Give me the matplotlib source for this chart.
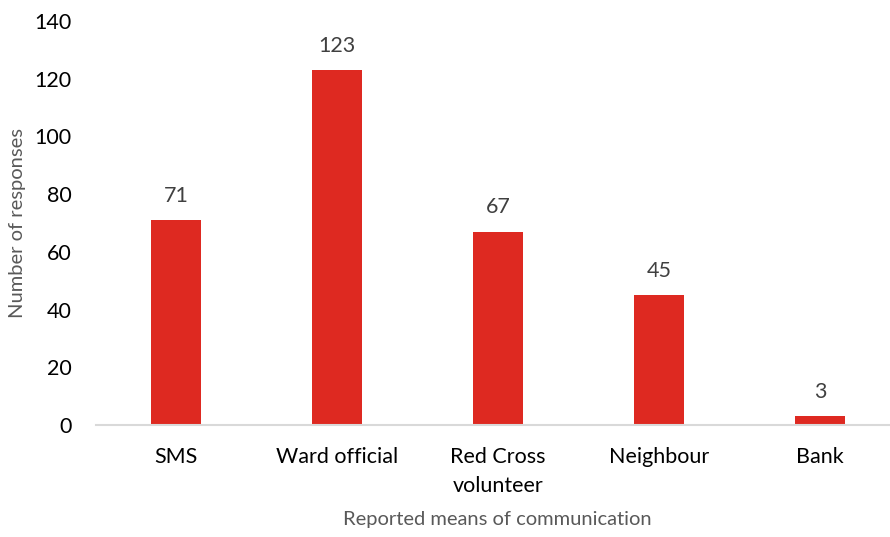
import matplotlib.pyplot as plt

plt.rcParams['font.family'] = ['Lato', 'DejaVu Sans']

categories = ['SMS', 'Ward official', 'Red Cross\nvolunteer', 'Neighbour', 'Bank']
responses = [71, 123, 67, 45, 3]

fig = plt.figure(figsize=(8.9, 5.37), dpi=100)
ax = fig.add_axes([95.5 / 890, 112 / 537, (890 - 95.5) / 890, (425 - 21) / 537])

x = range(len(categories))
bars = ax.bar(x, responses, width=0.31, color='#DE2921', zorder=2)

for b, v in zip(bars, responses):
    ax.annotate(str(v), (b.get_x() + b.get_width() / 2, v), xytext=(0, 17.5),
                textcoords='offset points', ha='center', va='center',
                fontsize=15.5, color='#404040')

ax.set_xlim(-0.5, 4.435)
ax.set_ylim(0, 140)
ax.set_yticks(range(0, 141, 20))
ax.set_xticks(list(x))
ax.set_xticklabels(categories, fontsize=15.5, color='black', linespacing=1.55)
ax.tick_params(axis='y', length=0, pad=17, labelsize=15.5, labelcolor='black')
ax.tick_params(axis='x', length=0, pad=16)

for s in ['top', 'right', 'left']:
    ax.spines[s].set_visible(False)
ax.spines['bottom'].set_color('#D9D9D9')
ax.spines['bottom'].set_linewidth(1.5)

ax.set_ylabel('Number of responses', fontsize=14.5, color='#595959')
ax.yaxis.set_label_coords(-0.088, 0.5)
ax.set_xlabel('Reported means of communication', fontsize=14.5, color='#595959')
ax.xaxis.set_label_coords(0.506, -0.214)

fig.savefig('out.png', dpi=100)
